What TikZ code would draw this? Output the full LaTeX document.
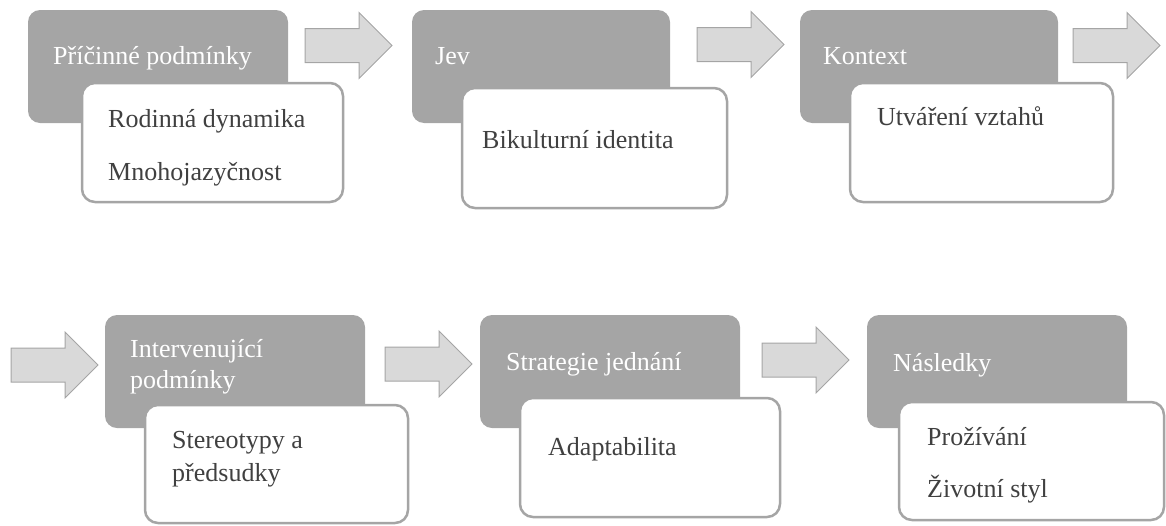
\documentclass[tikz,border=0pt]{standalone}
\usepackage{fontspec}
\setmainfont{Liberation Serif}
\definecolor{boxgray}{HTML}{A5A5A5}
\definecolor{arrowfill}{HTML}{D9D9D9}
\definecolor{txtgray}{HTML}{404040}
\tikzset{
  darkbox/.style={fill=boxgray, draw=none, rounded corners=12pt, minimum width=260pt, minimum height=113pt, inner sep=0pt},
  whitebox/.style={fill=white, draw=boxgray, line width=2.5pt, rounded corners=13pt, inner sep=0pt},
  headtext/.style={anchor=base west, inner sep=0pt, text=white, font=\fontsize{26}{34}\selectfont},
  bodytext/.style={anchor=base west, inner sep=0pt, text=txtgray, font=\fontsize{26}{34}\selectfont},
  arrowstyle/.style={fill=arrowfill, draw=boxgray, line width=1pt, line join=miter},
  pics/bigarrow/.style={code={
    \draw[arrowstyle] (0,-17) -- (54,-17) -- (54,-33) -- (87,0) -- (54,33) -- (54,17) -- (0,17) -- cycle;
  }}
}
\begin{document}
\begin{tikzpicture}[x=1pt,y=-1pt]
\useasboundingbox (0,0) rectangle (1166,525);
% arrows
\pic at (305,45.5) {bigarrow};
\pic at (697,44.5) {bigarrow};
\pic at (1073,45.5) {bigarrow};
\pic at (11,365) {bigarrow};
\pic at (385,364) {bigarrow};
\pic at (762,360) {bigarrow};
% row 1
\node[darkbox] (d1) at (158,66.5) {};
\node[whitebox, minimum width=261pt, minimum height=119pt] (w1) at (212.5,142.5) {};
\node[headtext] (h1) at (53,64) {Příčinné podmínky};
\node[bodytext] (t1a) at (108,127) {Rodinná dynamika};
\node[bodytext] (t1b) at (108,180) {Mnohojazyčnost};

\node[darkbox, minimum width=258pt] (d2) at (541,66.5) {};
\node[whitebox, minimum width=265pt, minimum height=120pt] (w2) at (594.5,148) {};
\node[headtext] (h2) at (435,64) {Jev};
\node[bodytext] (t2a) at (482,148) {Bikulturní identita};

\node[darkbox, minimum width=258pt] (d3) at (929,66.5) {};
\node[whitebox, minimum width=263pt, minimum height=119pt] (w3) at (981.5,142.5) {};
\node[headtext] (h3) at (823,64) {Kontext};
\node[bodytext] (t3a) at (877,125) {Utváření vztahů};
% row 2
\node[darkbox] (d4) at (235,371.5) {};
\node[whitebox, minimum width=263pt, minimum height=118pt] (w4) at (276.5,464) {};
\node[headtext] (h4a) at (130,357) {Intervenující};
\node[headtext] (h4b) at (130,388) {podmínky};
\node[bodytext] (t4a) at (172,448) {Stereotypy a};
\node[bodytext] (t4b) at (172,481) {předsudky};

\node[darkbox] (d5) at (610,371.5) {};
\node[whitebox, minimum width=260pt, minimum height=119pt] (w5) at (650,457.5) {};
\node[headtext] (h5) at (506,370) {Strategie jednání};
\node[bodytext] (t5a) at (548,455) {Adaptabilita};

\node[darkbox] (d6) at (997,371.5) {};
\node[whitebox, minimum width=265pt, minimum height=118pt] (w6) at (1031.5,461) {};
\node[headtext] (h6) at (893,371) {Následky};
\node[bodytext] (t6a) at (927,445) {Prožívání};
\node[bodytext] (t6b) at (927,497) {Životní styl};
\end{tikzpicture}
\end{document}
